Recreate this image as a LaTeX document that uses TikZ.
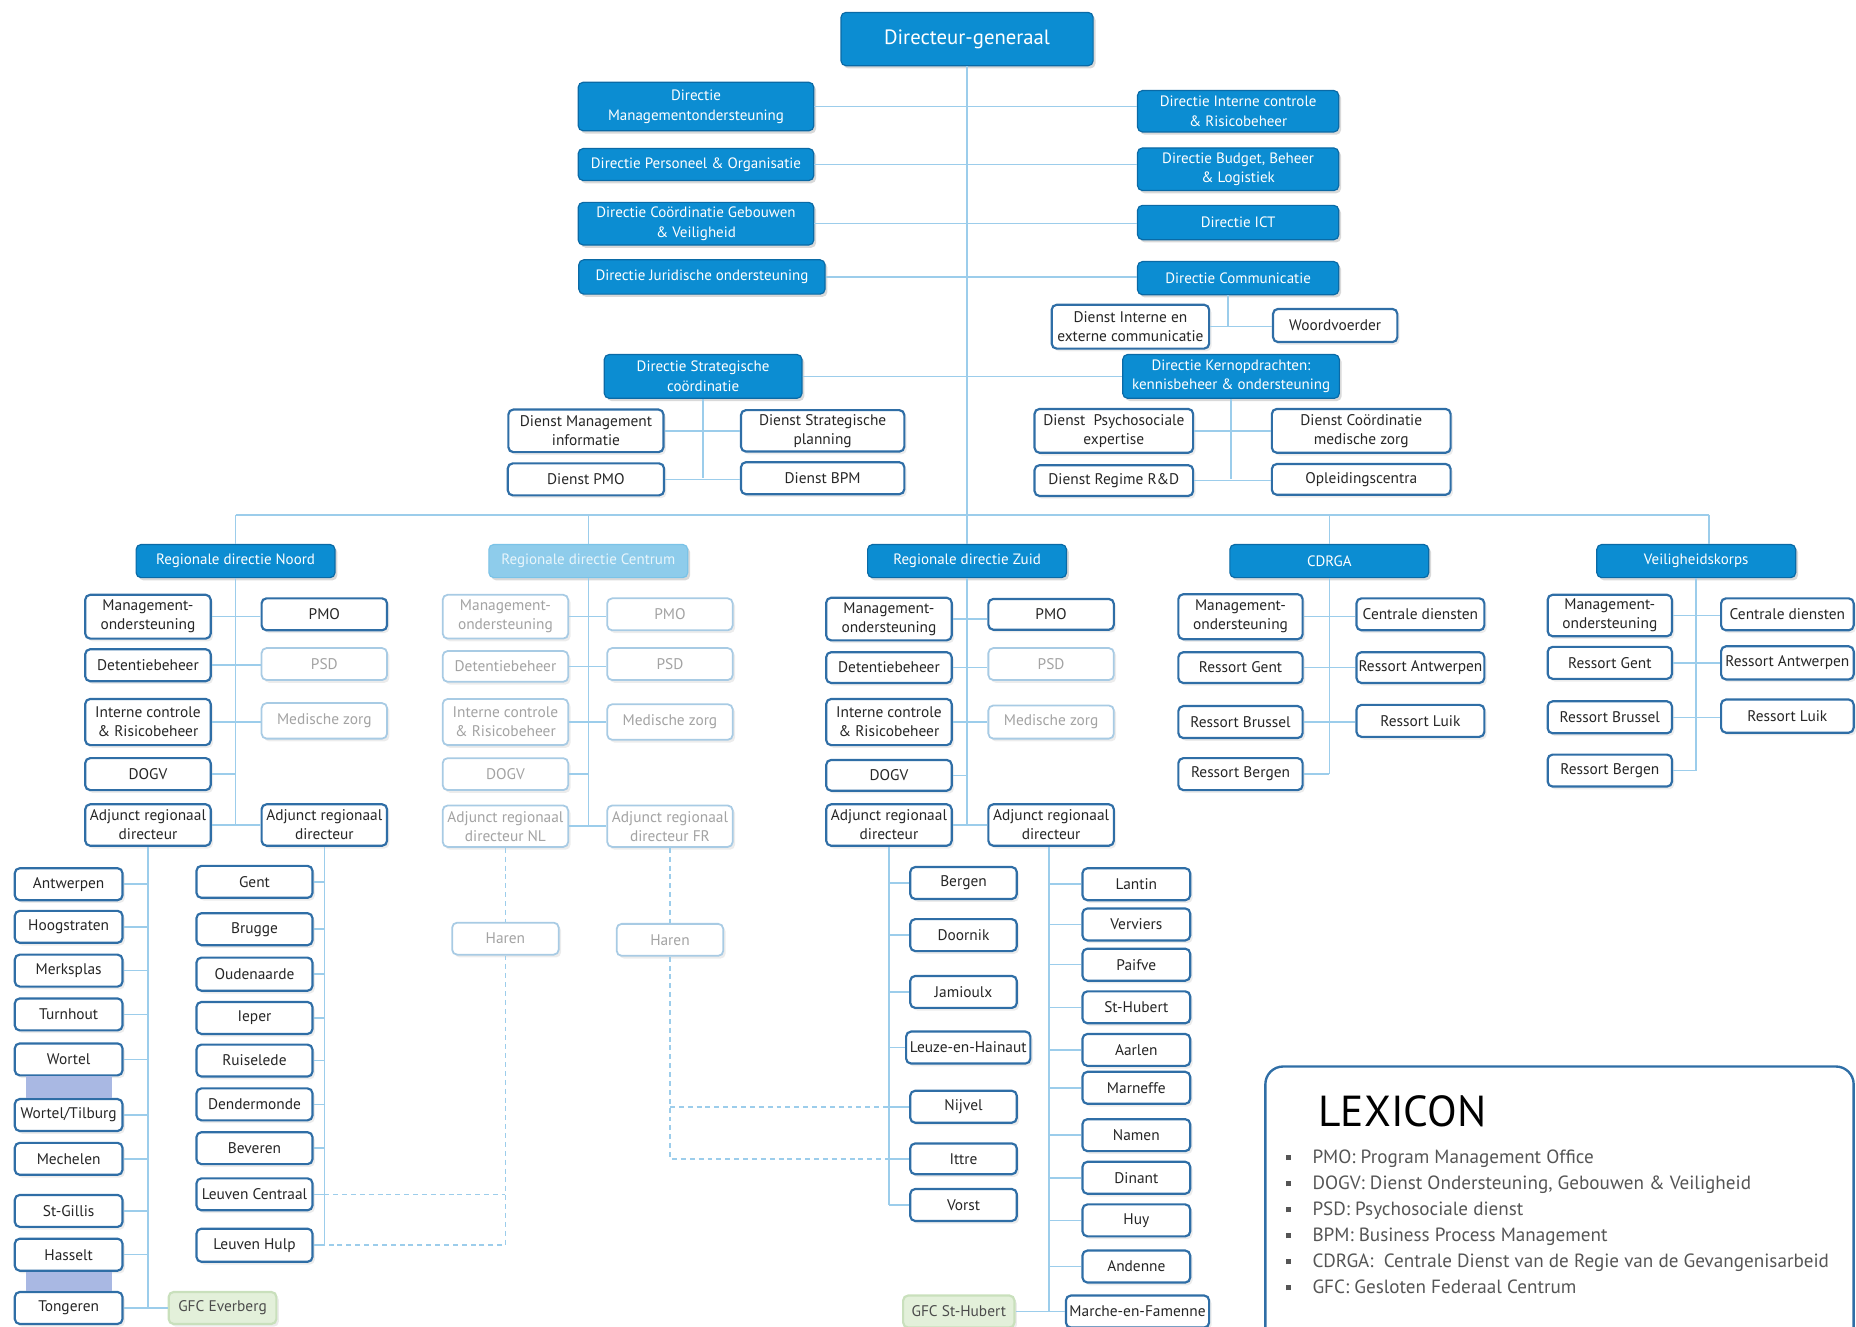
\documentclass[tikz,border=0pt]{standalone}
\usepackage{fontspec}
\setmainfont{PT Sans}
\usetikzlibrary{shadows}

\definecolor{dirblue}{HTML}{0C8DD2}
\definecolor{dirline}{HTML}{0A6AA6}
\definecolor{centblue}{HTML}{8ECCEB}
\definecolor{svcline}{HTML}{2F6EA6}
\definecolor{fadeline}{HTML}{A8CBE4}
\definecolor{fadetext}{HTML}{A3A3A3}
\definecolor{linkblue}{HTML}{9CCDEB}
\definecolor{gfcfill}{HTML}{E3F0DA}
\definecolor{gfcline}{HTML}{C9E0BC}
\definecolor{barcol}{HTML}{A9B8E3}
\definecolor{lextext}{HTML}{555555}

\newcommand\boxfont{\fontsize{7.8}{9.6}\selectfont}
\newcommand\dirfont{\fontsize{7.6}{10}\selectfont}
\newcommand\lexitem[1]{\makebox[13.5pt][l]{\rule[1.6pt]{2.6pt}{2.6pt}}#1}

\tikzset{
  sz/.style 2 args={minimum width=#1*0.6pt, minimum height=#2*0.6pt},
  dirbox/.style={draw=dirline, fill=dirblue, text=white, line width=0.6pt, rounded corners=2.5pt, font=\dirfont, align=center, inner sep=1pt, drop shadow={opacity=0.3, shadow xshift=1.2pt, shadow yshift=-1.4pt}},
  centbox/.style={dirbox, fill=centblue, draw=centblue!85!dirblue, text=white!80!centblue},
  svcbox/.style={draw=svcline, fill=white, line width=1.1pt, rounded corners=2.5pt, text=black!85, font=\boxfont, align=center, inner sep=1pt, drop shadow={opacity=0.15, shadow xshift=1.2pt, shadow yshift=-1.4pt}},
  fadebox/.style={svcbox, draw=fadeline, line width=0.9pt, text=fadetext},
  gfcbox/.style={svcbox, fill=gfcfill, draw=gfcline, text=black!70},
  conn/.style={draw=linkblue, line width=0.8pt},
  dconn/.style={conn, dash pattern=on 2.5pt off 2pt},
}

\begin{document}
\begin{tikzpicture}[x=0.6pt, y=-0.6pt]
  \useasboundingbox (0,0) rectangle (1568,1121);

  % top
  \node[dirbox, sz={213}{45}, font=\fontsize{10.5}{12}\selectfont] (dg) at (817,33) {Directeur-generaal};
  \node[dirbox, sz={199}{41}] (dmo) at (588,90) {Directie\\Managementondersteuning};
  \node[dirbox, sz={199}{27}] (dpo) at (588,139) {Directie Personeel \& Organisatie};
  \node[dirbox, sz={199}{36}] (dcg) at (588,189) {Directie Coördinatie Gebouwen\\\& Veiligheid};
  \node[dirbox, sz={208}{29}] (djo) at (593,234) {Directie Juridische ondersteuning};
  \node[dirbox, sz={170}{35}] (dic) at (1046,94) {Directie Interne controle\\\& Risicobeheer};
  \node[dirbox, sz={170}{36}] (dbb) at (1046,143) {Directie Budget, Beheer\\\& Logistiek};
  \node[dirbox, sz={170}{29}] (dict) at (1046,188) {Directie ICT};
  \node[dirbox, sz={170}{28}] (dcom) at (1046,235) {Directie Communicatie};
  \node[svcbox, sz={133}{37}] (dcomi) at (955,276) {Dienst Interne en\\externe communicatie};
  \node[svcbox, sz={105}{28}] (woord) at (1128,275) {Woordvoerder};
  \node[dirbox, sz={167}{37}] (dsc) at (594,318) {Directie Strategische\\coördinatie};
  \node[dirbox, sz={183}{37}] (dko) at (1040,318) {Directie Kernopdrachten:\\kennisbeheer \& ondersteuning};
  \node[svcbox, sz={131}{36}] (dmi) at (495,364) {Dienst Management\\informatie};
  \node[svcbox, sz={138}{35}] (dsp) at (695,364) {Dienst Strategische\\planning};
  \node[svcbox, sz={132}{27}] (dpmo) at (495,405) {Dienst PMO};
  \node[svcbox, sz={138}{27}] (dbpm) at (695,404) {Dienst BPM};
  \node[svcbox, sz={134}{37}] (dpe) at (941,364) {Dienst~~Psychosociale\\expertise};
  \node[svcbox, sz={151}{37}] (dcmz) at (1150,364) {Dienst Coördinatie\\medische zorg};
  \node[svcbox, sz={134}{26}] (drr) at (941,406) {Dienst Regime R\&D};
  \node[svcbox, sz={151}{26}] (opl) at (1150,405) {Opleidingscentra};

  % regional level
  \node[dirbox, sz={168}{28}] (noord) at (199,474) {Regionale directie Noord};
  \node[centbox, sz={168}{28}] (centrum) at (497,474) {Regionale directie Centrum};
  \node[dirbox, sz={168}{28}] (zuid) at (817,474) {Regionale directie Zuid};
  \node[dirbox, sz={168}{28}] (cdrga) at (1123,474) {CDRGA};
  \node[dirbox, sz={168}{28}] (veil) at (1433,474) {Veiligheidskorps};

  % Noord
  \node[svcbox, sz={106}{37}] (nmo) at (125,521) {Management-\\ondersteuning};
  \node[svcbox, sz={106}{27}] (ndet) at (125,562) {Detentiebeheer};
  \node[svcbox, sz={106}{39}] (nic) at (125,610) {Interne controle\\\& Risicobeheer};
  \node[svcbox, sz={106}{27}] (ndogv) at (125,654) {DOGV};
  \node[svcbox, sz={106}{35}] (nadj1) at (125,697) {Adjunct regionaal\\directeur};
  \node[svcbox, sz={106}{27}] (npmo) at (274,519) {PMO};
  \node[fadebox, sz={106}{27}] (npsd) at (274,561) {PSD};
  \node[fadebox, sz={106}{30}] (nmz) at (274,609) {Medische zorg};
  \node[svcbox, sz={106}{35}] (nadj2) at (274,697) {Adjunct regionaal\\directeur};

  % Centrum
  \node[fadebox, sz={106}{37}] (cmo) at (427,521) {Management-\\ondersteuning};
  \node[fadebox, sz={106}{26}] (cdet) at (427,563) {Detentiebeheer};
  \node[fadebox, sz={106}{39}] (cic) at (427,610) {Interne controle\\\& Risicobeheer};
  \node[fadebox, sz={106}{27}] (cdogv) at (427,654) {DOGV};
  \node[fadebox, sz={106}{35}] (cadj1) at (427,698) {Adjunct regionaal\\directeur NL};
  \node[fadebox, sz={106}{27}] (cpmo) at (566,519) {PMO};
  \node[fadebox, sz={106}{27}] (cpsd) at (566,561) {PSD};
  \node[fadebox, sz={106}{30}] (cmz) at (566,610) {Medische zorg};
  \node[fadebox, sz={106}{35}] (cadj2) at (566,698) {Adjunct regionaal\\directeur FR};
  \node[fadebox, sz={90}{27}] (harenn) at (427,793) {Haren};
  \node[fadebox, sz={90}{27}] (harenf) at (566,794) {Haren};

  % Zuid
  \node[svcbox, sz={106}{36}] (zmo) at (751,523) {Management-\\ondersteuning};
  \node[svcbox, sz={106}{26}] (zdet) at (751,564) {Detentiebeheer};
  \node[svcbox, sz={106}{39}] (zic) at (751,610) {Interne controle\\\& Risicobeheer};
  \node[svcbox, sz={106}{26}] (zdogv) at (751,655) {DOGV};
  \node[svcbox, sz={106}{35}] (zadj1) at (751,697) {Adjunct regionaal\\directeur};
  \node[svcbox, sz={106}{26}] (zpmo) at (888,519) {PMO};
  \node[fadebox, sz={106}{27}] (zpsd) at (888,561) {PSD};
  \node[fadebox, sz={106}{28}] (zmz) at (888,610) {Medische zorg};
  \node[svcbox, sz={106}{35}] (zadj2) at (888,697) {Adjunct regionaal\\directeur};

  % CDRGA
  \node[svcbox, sz={105}{38}] (kmo) at (1048,521) {Management-\\ondersteuning};
  \node[svcbox, sz={105}{26}] (kgent) at (1048,564) {Ressort Gent};
  \node[svcbox, sz={105}{27}] (kbru) at (1048,610) {Ressort Brussel};
  \node[svcbox, sz={105}{27}] (kber) at (1048,654) {Ressort Bergen};
  \node[svcbox, sz={108}{27}] (kcd) at (1200,519) {Centrale diensten};
  \node[svcbox, sz={108}{26}] (kant) at (1200,564) {Ressort Antwerpen};
  \node[svcbox, sz={108}{27}] (kluik) at (1200,609) {Ressort Luik};

  % Veiligheidskorps
  \node[svcbox, sz={105}{35}] (vmo) at (1360,520) {Management-\\ondersteuning};
  \node[svcbox, sz={105}{27}] (vgent) at (1360,560) {Ressort Gent};
  \node[svcbox, sz={105}{27}] (vbru) at (1360,606) {Ressort Brussel};
  \node[svcbox, sz={105}{27}] (vber) at (1360,651) {Ressort Bergen};
  \node[svcbox, sz={112}{27}] (vcd) at (1510,519) {Centrale diensten};
  \node[svcbox, sz={112}{28}] (vant) at (1510,560) {Ressort Antwerpen};
  \node[svcbox, sz={112}{28}] (vluik) at (1510,605) {Ressort Luik};

  % Noord, prisons
  \node[svcbox, sz={91}{27}] (antw) at (58,747) {Antwerpen};
  \node[svcbox, sz={91}{27}] (hoog) at (58,783) {Hoogstraten};
  \node[svcbox, sz={91}{27}] (merk) at (58,820) {Merksplas};
  \node[svcbox, sz={91}{27}] (turn) at (58,857) {Turnhout};
  \node[svcbox, sz={91}{27}] (wort) at (58,895) {Wortel};
  \node[svcbox, sz={91}{27}] (worttil) at (58,942) {Wortel/Tilburg};
  \node[svcbox, sz={91}{27}] (mech) at (58,979) {Mechelen};
  \node[svcbox, sz={91}{27}] (stg) at (58,1023) {St-Gillis};
  \node[svcbox, sz={91}{27}] (hass) at (58,1060) {Hasselt};
  \node[svcbox, sz={91}{27}] (tong) at (58,1105) {Tongeren};
  \node[gfcbox, sz={91}{27}] (gfcev) at (188,1105) {GFC Everberg};
  \node[svcbox, sz={98}{27}] (gent) at (215,745) {Gent};
  \node[svcbox, sz={98}{27}] (brug) at (215,785) {Brugge};
  \node[svcbox, sz={98}{28}] (oud) at (215,823) {Oudenaarde};
  \node[svcbox, sz={98}{27}] (iep) at (215,860) {Ieper};
  \node[svcbox, sz={98}{27}] (ruis) at (215,896) {Ruiselede};
  \node[svcbox, sz={98}{27}] (dend) at (215,933) {Dendermonde};
  \node[svcbox, sz={98}{27}] (bev) at (215,970) {Beveren};
  \node[svcbox, sz={98}{27}] (lcen) at (215,1009) {Leuven Centraal};
  \node[svcbox, sz={98}{28}] (lhul) at (215,1052) {Leuven Hulp};

  % Zuid, prisons
  \node[svcbox, sz={90}{27}] (berg) at (814,746) {Bergen};
  \node[svcbox, sz={90}{27}] (door) at (814,790) {Doornik};
  \node[svcbox, sz={90}{27}] (jam) at (814,838) {Jamioulx};
  \node[svcbox, sz={105}{27}] (leuze) at (818,885) {Leuze-en-Hainaut};
  \node[svcbox, sz={90}{27}] (nijv) at (814,935) {Nijvel};
  \node[svcbox, sz={90}{26}] (ittre) at (814,979) {Ittre};
  \node[svcbox, sz={90}{27}] (vorst) at (814,1018) {Vorst};
  \node[svcbox, sz={91}{27}] (lant) at (960,747) {Lantin};
  \node[svcbox, sz={91}{27}] (verv) at (960,781) {Verviers};
  \node[svcbox, sz={91}{27}] (paif) at (960,815) {Paifve};
  \node[svcbox, sz={91}{27}] (sthu) at (960,851) {St-Hubert};
  \node[svcbox, sz={91}{27}] (aarl) at (960,887) {Aarlen};
  \node[svcbox, sz={91}{27}] (marn) at (960,919) {Marneffe};
  \node[svcbox, sz={91}{27}] (nam) at (960,959) {Namen};
  \node[svcbox, sz={91}{27}] (din) at (960,995) {Dinant};
  \node[svcbox, sz={91}{27}] (huy) at (960,1031) {Huy};
  \node[svcbox, sz={91}{27}] (ande) at (960,1070) {Andenne};
  \node[svcbox, sz={121}{27}] (marche) at (961,1108) {Marche-en-Famenne};
  \node[gfcbox, sz={94}{27}] (gfcsh) at (810,1108) {GFC St-Hubert};

  % connectors, top
  \draw[conn] (dg.south) -- (dg.south |- zuid.north);
  \draw[conn] (dmo.east) -- (dmo.east -| dic.west);
  \draw[conn] (dpo.east) -- (dpo.east -| dbb.west);
  \draw[conn] (dcg.east) -- (dcg.east -| dict.west);
  \draw[conn] (djo.east) -- (djo.east -| dcom.west);
  \draw[conn] ([xshift=-5pt]dcom.south) -- ([xshift=-5pt]dcom.south |- woord.west);
  \draw[conn] (dcomi.east) -- (dcomi.east -| woord.west);
  \draw[conn] (dsc.east) -- (dko.west);
  \draw[conn] (dsc.south) -- (dsc.south |- dbpm.west);
  \draw[conn] (dmi.east) -- (dmi.east -| dsp.west);
  \draw[conn] (dpmo.east) -- (dpmo.east -| dbpm.west);
  \draw[conn] (dko.south) -- (dko.south |- opl.west);
  \draw[conn] (dpe.east) -- (dpe.east -| dcmz.west);
  \draw[conn] (drr.east) -- (drr.east -| opl.west);

  % bus to the regions
  \coordinate (busl) at (199,435);
  \coordinate (busr) at (1444,435);
  \draw[conn] (busl) -- (busr);
  \draw[conn] (busl) -- (noord.north);
  \draw[conn] (centrum.north |- busl) -- (centrum.north);
  \draw[conn] (cdrga.north |- busl) -- (cdrga.north);
  \draw[conn] (busr) -- (busr |- veil.north);

  % region rows
  \draw[conn] (noord.south) -- (noord.south |- nadj1.east);
  \draw[conn] (nmo.east) -- (nmo.east -| npmo.west);
  \draw[conn] (ndet.east) -- (ndet.east -| npsd.west);
  \draw[conn] (nic.east) -- (nic.east -| nmz.west);
  \draw[conn] (ndogv.east) -- (ndogv.east -| noord.south);
  \draw[conn] (nadj1.east) -- (nadj2.west);
  \draw[conn] (centrum.south) -- (centrum.south |- cadj1.east);
  \draw[conn] (cmo.east) -- (cmo.east -| cpmo.west);
  \draw[conn] (cdet.east) -- (cdet.east -| cpsd.west);
  \draw[conn] (cic.east) -- (cic.east -| cmz.west);
  \draw[conn] (cdogv.east) -- (cdogv.east -| centrum.south);
  \draw[conn] (cadj1.east) -- (cadj2.west);
  \draw[conn] (zuid.south) -- (zuid.south |- zadj1.east);
  \draw[conn] (zmo.east) -- (zmo.east -| zpmo.west);
  \draw[conn] (zdet.east) -- (zdet.east -| zpsd.west);
  \draw[conn] (zic.east) -- (zic.east -| zmz.west);
  \draw[conn] (zdogv.east) -- (zdogv.east -| zuid.south);
  \draw[conn] (zadj1.east) -- (zadj2.west);
  \draw[conn] (cdrga.south) -- (cdrga.south |- kber.east);
  \draw[conn] (kmo.east) -- (kmo.east -| kcd.west);
  \draw[conn] (kgent.east) -- (kgent.east -| kant.west);
  \draw[conn] (kbru.east) -- (kbru.east -| kluik.west);
  \draw[conn] (kber.east) -- (kber.east -| cdrga.south);
  \draw[conn] (veil.south) -- (veil.south |- vber.east);
  \draw[conn] (vmo.east) -- (vmo.east -| vcd.west);
  \draw[conn] (vgent.east) -- (vgent.east -| vant.west);
  \draw[conn] (vbru.east) -- (vbru.east -| vluik.west);
  \draw[conn] (vber.east) -- (vber.east -| veil.south);

  % Noord prisons
  \fill[barcol] ([xshift=6pt]wort.south west) rectangle ([xshift=-6pt]worttil.north east);
  \fill[barcol] ([xshift=6pt]hass.south west) rectangle ([xshift=-6pt]tong.north east);
  \draw[conn] (nadj1.south) -- (nadj1.south |- tong.east);
  \draw[conn] (antw.east) -- (antw.east -| nadj1.south);
  \draw[conn] (hoog.east) -- (hoog.east -| nadj1.south);
  \draw[conn] (merk.east) -- (merk.east -| nadj1.south);
  \draw[conn] (turn.east) -- (turn.east -| nadj1.south);
  \draw[conn] (wort.east) -- (wort.east -| nadj1.south);
  \draw[conn] (worttil.east) -- (worttil.east -| nadj1.south);
  \draw[conn] (mech.east) -- (mech.east -| nadj1.south);
  \draw[conn] (stg.east) -- (stg.east -| nadj1.south);
  \draw[conn] (hass.east) -- (hass.east -| nadj1.south);
  \draw[conn] (tong.east) -- (gfcev.west);
  \draw[conn] (nadj2.south) -- (nadj2.south |- lhul.east);
  \draw[conn] (gent.east) -- (gent.east -| nadj2.south);
  \draw[conn] (brug.east) -- (brug.east -| nadj2.south);
  \draw[conn] (oud.east) -- (oud.east -| nadj2.south);
  \draw[conn] (iep.east) -- (iep.east -| nadj2.south);
  \draw[conn] (ruis.east) -- (ruis.east -| nadj2.south);
  \draw[conn] (dend.east) -- (dend.east -| nadj2.south);
  \draw[conn] (bev.east) -- (bev.east -| nadj2.south);
  \draw[conn] (lcen.east) -- (lcen.east -| nadj2.south);
  \draw[conn] (lhul.east) -- (lhul.east -| nadj2.south);

  % Centrum, dashed
  \draw[dconn] (cadj1.south) -- (harenn.north);
  \draw[dconn] (harenn.south) |- (lhul.east -| nadj2.south);
  \draw[dconn] (lcen.east -| nadj2.south) -- (lcen.east -| harenn.south);
  \draw[dconn] (cadj2.south) -- (harenf.north);
  \draw[dconn] (harenf.south) |- (ittre.west -| zadj1.south);
  \draw[dconn] (nijv.west -| harenf.south) -- (nijv.west -| zadj1.south);

  % Zuid prisons
  \draw[conn] (zadj1.south) -- (zadj1.south |- vorst.west);
  \draw[conn] (berg.west) -- (berg.west -| zadj1.south);
  \draw[conn] (door.west) -- (door.west -| zadj1.south);
  \draw[conn] (jam.west) -- (jam.west -| zadj1.south);
  \draw[conn] (leuze.west) -- (leuze.west -| zadj1.south);
  \draw[conn] (nijv.west) -- (nijv.west -| zadj1.south);
  \draw[conn] (ittre.west) -- (ittre.west -| zadj1.south);
  \draw[conn] (vorst.west) -- (vorst.west -| zadj1.south);
  \draw[conn] ([xshift=-1pt]zadj2.south) -- ([xshift=-1pt]zadj2.south |- marche.west);
  \draw[conn] (lant.west) -- ([xshift=-1pt]lant.west -| zadj2.south);
  \draw[conn] (verv.west) -- ([xshift=-1pt]verv.west -| zadj2.south);
  \draw[conn] (paif.west) -- ([xshift=-1pt]paif.west -| zadj2.south);
  \draw[conn] (sthu.west) -- ([xshift=-1pt]sthu.west -| zadj2.south);
  \draw[conn] (aarl.west) -- ([xshift=-1pt]aarl.west -| zadj2.south);
  \draw[conn] (marn.west) -- ([xshift=-1pt]marn.west -| zadj2.south);
  \draw[conn] (nam.west) -- ([xshift=-1pt]nam.west -| zadj2.south);
  \draw[conn] (din.west) -- ([xshift=-1pt]din.west -| zadj2.south);
  \draw[conn] (huy.west) -- ([xshift=-1pt]huy.west -| zadj2.south);
  \draw[conn] (ande.west) -- ([xshift=-1pt]ande.west -| zadj2.south);
  \draw[conn] (gfcsh.east) -- (marche.west);

  % lexicon
  \node[draw=svcline, line width=1.2pt, rounded corners=9pt, sz={497}{250}, anchor=north west] (lex) at (1068,900) {};
  \node[anchor=west, font=\fontsize{22}{24}\selectfont] (lextitle) at (1108,939) {LEXICON};
  \node[anchor=north west, align=left, text=lextext, inner sep=0pt, font=\fontsize{9.7}{13.2}\selectfont] (lexlist) at (1086,971)
    {\lexitem{PMO: Program Management Office}\\
     \lexitem{DOGV: Dienst Ondersteuning, Gebouwen \& Veiligheid}\\
     \lexitem{PSD: Psychosociale dienst}\\
     \lexitem{BPM: Business Process Management}\\
     \lexitem{CDRGA:~ Centrale Dienst van de Regie van de Gevangenisarbeid}\\
     \lexitem{GFC: Gesloten Federaal Centrum}};
\end{tikzpicture}
\end{document}
